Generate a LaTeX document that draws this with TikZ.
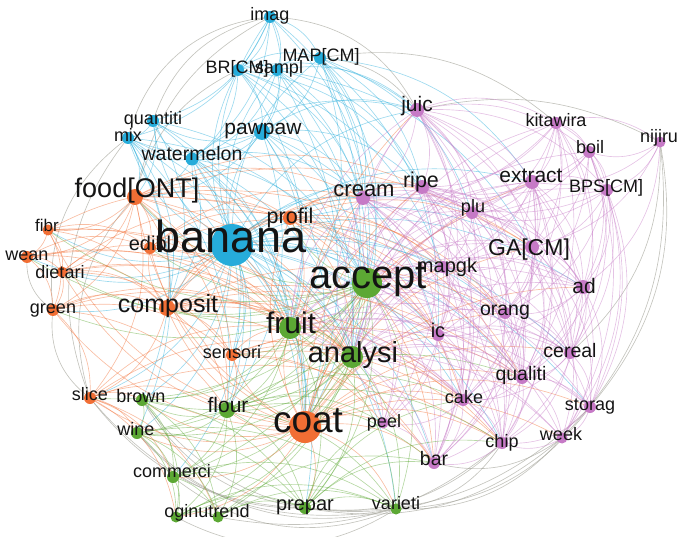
\documentclass[tikz,border=0pt]{standalone}
\usepackage{fontspec}
\setmainfont{Liberation Sans}
\pgfdeclarelayer{bg}
\pgfsetlayers{bg,main}
\definecolor{cB}{RGB}{38,172,218}
\definecolor{cO}{RGB}{241,110,52}
\definecolor{cG}{RGB}{92,168,52}
\definecolor{cP}{RGB}{198,122,198}
\definecolor{cY}{RGB}{165,165,155}
\definecolor{txt}{RGB}{20,20,20}
\tikzset{
  dot/.style={circle, inner sep=0pt, draw=none},
  lbl/.style={anchor=base, inner sep=0pt, text=txt},
  ed/.style={line width=0.65pt, opacity=0.45},
  eB/.style={ed, draw=cB},
  eO/.style={ed, draw=cO},
  eG/.style={ed, draw=cG},
  eP/.style={ed, draw=cP},
  eY/.style={ed, draw=cY, opacity=0.65},
}
\newcommand\fs[1]{\fontsize{#1}{#1}\selectfont}
\newcommand\edg[4][26]{\foreach \tg in {#4}{\draw[#2] (#3.center) to[bend left=#1] (\tg.center);}}
\begin{document}
\begin{tikzpicture}[x=1pt,y=-1pt]
\useasboundingbox (0,0) rectangle (679,537);
% ---------- nodes (circles)
% blue
\node[dot, fill=cB, minimum size=12pt] (imag) at (270,17) {};
\node[dot, fill=cB, minimum size=12pt] (brcm) at (238,70) {};
\node[dot, fill=cB, minimum size=12pt] (sampl) at (277,70) {};
\node[dot, fill=cB, minimum size=12pt] (mapcm) at (320,58) {};
\node[dot, fill=cB, minimum size=12pt] (quantiti) at (153,121) {};
\node[dot, fill=cB, minimum size=12pt] (mix) at (128,138) {};
\node[dot, fill=cB, minimum size=16pt] (pawpaw) at (262,132) {};
\node[dot, fill=cB, minimum size=13pt] (watermelon) at (192,159) {};
\node[dot, fill=cB, minimum size=42pt] (banana) at (232,245) {};
% orange
\node[dot, fill=cO, minimum size=16pt] (food) at (135,197) {};
\node[dot, fill=cO, minimum size=11pt] (fibr) at (48,230) {};
\node[dot, fill=cO, minimum size=12pt] (wean) at (27,257) {};
\node[dot, fill=cO, minimum size=11pt] (dietari) at (62,272) {};
\node[dot, fill=cO, minimum size=12pt] (edibl) at (150,248) {};
\node[dot, fill=cO, minimum size=14pt] (profil) at (290,218) {};
\node[dot, fill=cO, minimum size=12pt] (green) at (53,310) {};
\node[dot, fill=cO, minimum size=16pt] (composit) at (167,308) {};
\node[dot, fill=cO, minimum size=12pt] (sensori) at (232,355) {};
\node[dot, fill=cO, minimum size=12pt] (slice) at (90,398) {};
\node[dot, fill=cO, minimum size=32pt] (coat) at (305,427) {};
% green
\node[dot, fill=cG, minimum size=30pt] (accept) at (367,283) {};
\node[dot, fill=cG, minimum size=22pt] (fruit) at (290,328) {};
\node[dot, fill=cG, minimum size=22pt] (analysi) at (352,357) {};
\node[dot, fill=cG, minimum size=16pt] (flour) at (227,410) {};
\node[dot, fill=cG, minimum size=12pt] (brown) at (142,400) {};
\node[dot, fill=cG, minimum size=12pt] (wine) at (137,433) {};
\node[dot, fill=cG, minimum size=12pt] (commerci) at (173,477) {};
\node[dot, fill=cG, minimum size=11pt] (ogi) at (176,517) {};
\node[dot, fill=cG, minimum size=11pt] (nutrend) at (218,517) {};
\node[dot, fill=cG, minimum size=12pt] (prepar) at (305,508) {};
\node[dot, fill=cG, minimum size=11pt] (varieti) at (396,509) {};
% purple
\node[dot, fill=cP, minimum size=14pt] (juic) at (417,110) {};
\node[dot, fill=cP, minimum size=12pt] (kitawira) at (556,123) {};
\node[dot, fill=cP, minimum size=11pt] (nijiru) at (660,142) {};
\node[dot, fill=cP, minimum size=12pt] (boil) at (589,152) {};
\node[dot, fill=cP, minimum size=14pt] (extract) at (532,182) {};
\node[dot, fill=cP, minimum size=12pt] (bpscm) at (607,190) {};
\node[dot, fill=cP, minimum size=14pt] (cream) at (363,198) {};
\node[dot, fill=cP, minimum size=14pt] (ripe) at (422,187) {};
\node[dot, fill=cP, minimum size=12pt] (plu) at (472,213) {};
\node[dot, fill=cP, minimum size=14pt] (gacm) at (532,247) {};
\node[dot, fill=cP, minimum size=12pt] (mapgk) at (443,267) {};
\node[dot, fill=cP, minimum size=14pt] (ad) at (583,287) {};
\node[dot, fill=cP, minimum size=12pt] (orang) at (505,313) {};
\node[dot, fill=cP, minimum size=12pt] (ic) at (438,335) {};
\node[dot, fill=cP, minimum size=12pt] (cereal) at (570,353) {};
\node[dot, fill=cP, minimum size=12pt] (qualiti) at (522,378) {};
\node[dot, fill=cP, minimum size=12pt] (cake) at (463,400) {};
\node[dot, fill=cP, minimum size=12pt] (storag) at (590,407) {};
\node[dot, fill=cP, minimum size=11pt] (peel) at (383,423) {};
\node[dot, fill=cP, minimum size=11pt] (week) at (562,438) {};
\node[dot, fill=cP, minimum size=12pt] (chip) at (502,443) {};
\node[dot, fill=cP, minimum size=12pt] (bar) at (434,463) {};
% ---------- edges
\begin{pgfonlayer}{bg}
% gray outer arcs
\edg[35]{eY}{mix}{imag}
\edg[30]{eY}{quantiti}{imag}
\edg[25]{eY}{food}{imag,brcm}
\edg[30]{eY}{imag}{juic}
\edg[25]{eY}{mapcm}{juic,kitawira}
\edg[20]{eY}{juic}{nijiru}
\edg[25]{eY}{nijiru}{storag,week,cereal}
\edg[25]{eY}{week}{varieti,prepar,bar}
\edg[25]{eY}{storag}{varieti,prepar}
\edg[25]{eY}{chip}{varieti,prepar,nutrend}
\edg[30]{eY}{varieti}{slice,wine,brown,commerci,ogi}
\edg[25]{eY}{prepar}{slice,wine,brown}
\edg[30]{eY}{slice}{green,food,mix}
\edg[30]{eY}{green}{wean,mix}
% banana hub
\edg{eB}{banana}{imag,brcm,sampl,mapcm,quantiti,mix,pawpaw,watermelon,food,fibr,wean,dietari,edibl,profil,green,composit,sensori,slice,coat,accept,fruit,analysi,flour,brown,wine,commerci,prepar,varieti,juic,cream,ripe,plu,gacm,mapgk,ad,orang,ic,cereal,qualiti,cake,peel,chip,bar,extract,storag}
% blue cluster
\edg{eB}{imag}{brcm,sampl,mapcm,pawpaw,watermelon,cream,accept,quantiti,mix}
\edg{eB}{brcm}{sampl,mapcm,pawpaw,watermelon,accept,juic,cream,fruit,analysi,mapgk,ripe}
\edg{eB}{sampl}{mapcm,pawpaw,watermelon,accept,juic,cream,coat,analysi,ripe,gacm}
\edg{eB}{mapcm}{pawpaw,cream,accept,ripe,extract,plu,analysi,fruit,coat,ic}
\edg{eB}{pawpaw}{watermelon,quantiti,mix,accept,cream,juic,fruit,analysi,coat,food,ripe,ic,flour}
\edg{eB}{watermelon}{quantiti,mix,food,accept,fruit,coat,analysi,composit,sensori,cream,juic,flour}
\edg{eB}{quantiti}{mix,food,accept,fruit,coat,composit}
\edg{eB}{mix}{food,accept,fruit,coat,composit,flour,brown,wine}
% accept hub
\edg{eG}{accept}{food,fibr,wean,dietari,edibl,profil,green,composit,sensori,slice,coat,fruit,analysi,flour,brown,wine,commerci,ogi,nutrend,prepar,varieti}
\edg{eP}{accept}{juic,kitawira,boil,extract,bpscm,cream,ripe,plu,gacm,mapgk,ad,orang,ic,cereal,qualiti,cake,storag,peel,chip,week,bar}
% coat hub
\edg{eO}{coat}{food,fibr,dietari,edibl,profil,green,composit,sensori,slice,fruit,analysi,flour,brown,wine,commerci,ogi,prepar,varieti,juic,extract,cream,ripe,plu,gacm,mapgk,ad,orang,ic,cereal,qualiti,cake,storag,peel,chip,week,bar}
% orange cluster
\edg{eO}{food}{fibr,wean,dietari,edibl,green,composit,profil,sensori,slice,fruit,analysi,flour,cream,ripe,gacm,orang,ic,qualiti}
\edg{eO}{fibr}{wean,dietari,edibl,green,composit,profil,fruit,analysi}
\edg{eO}{wean}{dietari,green,composit,edibl,fruit,analysi}
\edg{eO}{dietari}{green,composit,edibl,profil,fruit,analysi,sensori}
\edg{eO}{green}{composit,slice,fruit,analysi,flour,sensori}
\edg{eO}{composit}{edibl,profil,sensori,slice,fruit,analysi,flour,cream,ripe,ic,orang,qualiti,cake,chip,bar}
\edg{eO}{profil}{cream,ripe,fruit,analysi,gacm,mapgk,ic,orang,qualiti,cake,bar}
\edg{eO}{edibl}{profil,fruit,analysi,cream,mapgk}
\edg{eO}{sensori}{fruit,analysi,flour,qualiti,cake,bar,chip,peel}
\edg{eO}{slice}{brown,wine,commerci,ogi,nutrend,flour,fruit,analysi,chip}
% green cluster
\edg{eG}{fruit}{analysi,flour,brown,wine,commerci,prepar,varieti}
\edg{eP}{fruit}{juic,cream,ripe,gacm,mapgk,ad,orang,ic,cereal,qualiti,cake,peel,chip,bar,extract,storag,week}
\edg{eG}{analysi}{flour,brown,wine,commerci,ogi,prepar,varieti}
\edg{eP}{analysi}{juic,cream,ripe,plu,gacm,mapgk,ad,orang,ic,cereal,qualiti,cake,peel,chip,bar,extract,storag,week,kitawira,bpscm}
\edg{eG}{flour}{brown,wine,commerci,ogi,nutrend,prepar,varieti,peel,bar,cake,chip,qualiti}
\edg{eG}{brown}{wine,commerci,ogi,nutrend,prepar}
\edg{eG}{wine}{commerci,ogi,nutrend,prepar,varieti}
\edg{eG}{commerci}{ogi,nutrend,prepar,varieti}
\edg{eG}{ogi}{nutrend,prepar,varieti}
\edg{eG}{nutrend}{prepar,varieti,bar}
\edg{eG}{prepar}{varieti,bar,peel,cake,chip}
% purple cluster
\edg{eP}{juic}{ripe,cream,plu,extract,kitawira,boil,gacm,mapgk,ad,orang,ic,cereal,qualiti,cake,bar,chip,bpscm}
\edg{eP}{kitawira}{nijiru,boil,extract,bpscm,gacm,ad,ripe,plu,cream,cereal,orang,mapgk,qualiti}
\edg{eP}{nijiru}{boil,extract,bpscm,gacm,ad}
\edg{eP}{boil}{extract,bpscm,gacm,ad,plu,ripe,cereal,storag,week,orang}
\edg{eP}{extract}{bpscm,gacm,ripe,cream,plu,mapgk,ad,orang,ic,cereal,qualiti,cake,chip,bar}
\edg{eP}{bpscm}{gacm,ad,ripe,plu,cereal,storag,week,orang,qualiti}
\edg{eP}{cream}{ripe,plu,mapgk,ic,orang,gacm,ad,qualiti,cake,bar,chip,peel}
\edg{eP}{ripe}{plu,gacm,mapgk,ad,orang,ic,cereal,qualiti,cake,bar,chip,peel}
\edg{eP}{plu}{gacm,mapgk,ad,orang,ic,cereal,qualiti,cake}
\edg{eP}{gacm}{mapgk,ad,orang,ic,cereal,qualiti,cake,chip,storag,week,bar}
\edg{eP}{mapgk}{ad,orang,ic,cereal,qualiti,cake,chip,bar,peel}
\edg{eP}{ad}{orang,ic,cereal,qualiti,cake,storag,week,chip}
\edg{eP}{orang}{ic,cereal,qualiti,cake,chip,bar,storag}
\edg{eP}{ic}{cereal,qualiti,cake,chip,bar,peel}
\edg{eP}{cereal}{qualiti,cake,storag,week,chip}
\edg{eP}{qualiti}{cake,storag,week,chip,bar}
\edg{eP}{cake}{chip,bar,peel}
\edg{eP}{storag}{week,chip}
\edg{eP}{week}{chip}
\edg{eP}{chip}{bar}
\edg{eP}{peel}{bar}
\end{pgfonlayer}
% ---------- labels
\node[lbl, font=\fs{18}] (imag-t) at (270,21) {imag};
\node[lbl, font=\fs{18}] (brcm-t) at (237,74) {BR[CM]};
\node[lbl, font=\fs{18}] (sampl-t) at (279,74) {sampl};
\node[lbl, font=\fs{18}] (mapcm-t) at (321,62) {MAP[CM]};
\node[lbl, font=\fs{18}] (quantiti-t) at (153,125) {quantiti};
\node[lbl, font=\fs{18}] (mix-t) at (128,142) {mix};
\node[lbl, font=\fs{21}] (pawpaw-t) at (263,135) {pawpaw};
\node[lbl, font=\fs{19.5}] (watermelon-t) at (192,161) {watermelon};
\node[lbl, font=\fs{45}] (banana-t) at (231,252) {banana};
\node[lbl, font=\fs{27}] (food-t) at (137,198) {food[ONT]};
\node[lbl, font=\fs{17}] (fibr-t) at (47,231) {fibr};
\node[lbl, font=\fs{18}] (wean-t) at (27,260) {wean};
\node[lbl, font=\fs{18}] (dietari-t) at (60,278) {dietari};
\node[lbl, font=\fs{20}] (edibl-t) at (150,250) {edibl};
\node[lbl, font=\fs{21.5}] (profil-t) at (290,223) {profil};
\node[lbl, font=\fs{18}] (green-t) at (53,313) {green};
\node[lbl, font=\fs{25}] (composit-t) at (168,312) {composit};
\node[lbl, font=\fs{18}] (sensori-t) at (232,358) {sensori};
\node[lbl, font=\fs{18}] (slice-t) at (90,400) {slice};
\node[lbl, font=\fs{37}] (coat-t) at (308,432) {coat};
\node[lbl, font=\fs{40}] (accept-t) at (368,288) {accept};
\node[lbl, font=\fs{30}] (fruit-t) at (291,333) {fruit};
\node[lbl, font=\fs{29}] (analysi-t) at (353,362) {analysi};
\node[lbl, font=\fs{21}] (flour-t) at (228,412) {flour};
\node[lbl, font=\fs{18}] (brown-t) at (141,402) {brown};
\node[lbl, font=\fs{18}] (wine-t) at (136,435) {wine};
\node[lbl, font=\fs{18}] (commerci-t) at (172,477) {commerci};
\node[lbl, font=\fs{18}] (ogi-t) at (207,517) {oginutrend};
\node[lbl, font=\fs{20}] (prepar-t) at (305,510) {prepar};
\node[lbl, font=\fs{18}] (varieti-t) at (396,509) {varieti};
\node[lbl, font=\fs{21}] (juic-t) at (417,112) {juic};
\node[lbl, font=\fs{18}] (kitawira-t) at (556,127) {kitawira};
\node[lbl, font=\fs{18}] (nijiru-t) at (659,143) {nijiru};
\node[lbl, font=\fs{18}] (boil-t) at (590,154) {boil};
\node[lbl, font=\fs{21}] (extract-t) at (531,183) {extract};
\node[lbl, font=\fs{18}] (bpscm-t) at (606,193) {BPS[CM]};
\node[lbl, font=\fs{22}] (cream-t) at (364,197) {cream};
\node[lbl, font=\fs{21.5}] (ripe-t) at (421,188) {ripe};
\node[lbl, font=\fs{18}] (plu-t) at (473,213) {plu};
\node[lbl, font=\fs{23}] (gacm-t) at (529,255) {GA[CM]};
\node[lbl, font=\fs{20}] (mapgk-t) at (447,272) {mapgk};
\node[lbl, font=\fs{21}] (ad-t) at (584,293) {ad};
\node[lbl, font=\fs{19.5}] (orang-t) at (505,315) {orang};
\node[lbl, font=\fs{20}] (ic-t) at (438,337) {ic};
\node[lbl, font=\fs{19.5}] (cereal-t) at (570,357) {cereal};
\node[lbl, font=\fs{19.5}] (qualiti-t) at (521,380) {qualiti};
\node[lbl, font=\fs{18}] (cake-t) at (464,403) {cake};
\node[lbl, font=\fs{18}] (storag-t) at (590,410) {storag};
\node[lbl, font=\fs{18}] (peel-t) at (384,427) {peel};
\node[lbl, font=\fs{18}] (week-t) at (561,440) {week};
\node[lbl, font=\fs{18}] (chip-t) at (502,447) {chip};
\node[lbl, font=\fs{19.5}] (bar-t) at (434,465) {bar};
\end{tikzpicture}
\end{document}
